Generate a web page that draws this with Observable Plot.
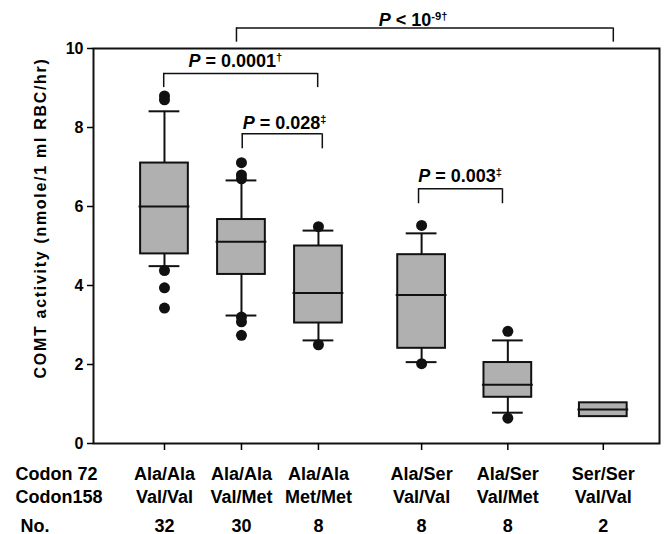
<!DOCTYPE html>
<html><head><meta charset="utf-8">
<script src="https://cdn.jsdelivr.net/npm/d3@7"></script>
<script src="https://cdn.jsdelivr.net/npm/@observablehq/plot@0.6"></script>
<style>body{margin:0;background:#fff;}</style>
</head><body><div id="chart"></div>
<script>
// ---- data ----
const codon72   = ["Ala/Ala","Ala/Ala","Ala/Ala","Ala/Ser","Ala/Ser","Ser/Ser"];
const codon158  = ["Val/Val","Val/Met","Met/Met","Val/Val","Val/Met","Val/Val"];
const counts    = [32, 30, 8, 8, 8, 2];
const groupPos  = [1, 2, 3, 4.34, 5.46, 6.70];
const q1        = [4.80, 4.28, 3.05, 2.41, 1.17, 0.68];
const median    = [6.00, 5.11, 3.81, 3.76, 1.49, 0.86];
const q3        = [7.10, 5.67, 5.00, 4.78, 2.05, 1.03];
const whiskerLo = [4.49, 3.24, 2.61, 2.06, 0.78, null];
const whiskerHi = [8.41, 6.66, 5.39, 5.32, 2.61, null];
const outliers  = [[8.80, 8.70, 4.38, 3.94, 3.43], [7.11, 6.80, 6.70, 3.20, 3.08, 2.74], [5.49, 2.50], [5.52, 2.02], [2.84, 0.64], []];
const yTicks    = [0, 2, 4, 6, 8, 10];
const pLabels   = ["P = 0.0001^†", "P = 0.028^‡", "P = 0.003^‡", "P < 10^-9†"];
const pFromX    = [0.99, 2.01, 4.30, 1.935];
const pToX      = [2.99, 3.05, 5.39, 6.83];
const pBarY     = [9.37, 7.84, 6.45, 10.52];
const pArmEndY  = [9.01, 7.46, 6.07, 10.16];
const pTextX    = [1.92, 2.56, 4.84, 4.23];
const pTextY    = [9.53, 7.97, 6.62, 10.58];
const yLabel    = "COMT activity (nmole/1 ml RBC/hr)";

// ---- tables ----
const groups = groupPos.map((x, i) => ({
  x, q1: q1[i], med: median[i], q3: q3[i], lo: whiskerLo[i], hi: whiskerHi[i],
  label: codon72[i] + "\n" + codon158[i], n: String(counts[i])
}));
const whiskered = groups.filter(d => d.lo != null);
const outlierPts = outliers.flatMap((arr, i) => arr.map(v => ({x: groupPos[i], v})));
const pTable = pLabels.map((label, i) => ({label, x1: pFromX[i], x2: pToX[i], by: pBarY[i], be: pArmEndY[i], tx: pTextX[i], ty: pTextY[i]}));

const ink = "#111";
const boxHalf = 0.31, capHalf = 0.2;

const chart = Plot.plot({
  width: 664, height: 534,
  marginLeft: 93, marginRight: 5, marginTop: 48, marginBottom: 91,
  x: {domain: [0.078, 7.43]},
  y: {domain: [0, 10]},
  style: {fontFamily: "'Liberation Sans', Arial, sans-serif", color: "#000", background: "#fff", overflow: "visible"},
  marks: [
    Plot.frame({stroke: ink, strokeWidth: 2}),
    Plot.axisY({ticks: yTicks, tickSize: 6, tickPadding: 4, fontSize: 16, fontWeight: "bold", label: null, strokeWidth: 1.5}),
    Plot.axisX({ticks: groupPos, tickSize: 7, tickFormat: () => "", label: null, strokeWidth: 1.5}),
    Plot.ruleX(whiskered, {x: "x", y1: "q3", y2: "hi", stroke: ink, strokeWidth: 2}),
    Plot.ruleX(whiskered, {x: "x", y1: "lo", y2: "q1", stroke: ink, strokeWidth: 2}),
    Plot.ruleY(whiskered, {y: "hi", x1: d => d.x - capHalf, x2: d => d.x + capHalf, stroke: ink, strokeWidth: 2}),
    Plot.ruleY(whiskered, {y: "lo", x1: d => d.x - capHalf, x2: d => d.x + capHalf, stroke: ink, strokeWidth: 2}),
    Plot.rect(groups, {x1: d => d.x - boxHalf, x2: d => d.x + boxHalf, y1: "q1", y2: "q3", fill: "#b0b0b0", stroke: ink, strokeWidth: 2}),
    Plot.ruleY(groups, {y: "med", x1: d => d.x - boxHalf - 0.02, x2: d => d.x + boxHalf + 0.02, stroke: ink, strokeWidth: 2}),
    Plot.dot(outlierPts, {x: "x", y: "v", r: 5.5, fill: ink, stroke: null}),
    // significance brackets
    Plot.ruleY(pTable, {y: "by", x1: "x1", x2: "x2", stroke: ink, strokeWidth: 1.5}),
    Plot.ruleX(pTable, {x: "x1", y1: "by", y2: "be", stroke: ink, strokeWidth: 1.5}),
    Plot.ruleX(pTable, {x: "x2", y1: "by", y2: "be", stroke: ink, strokeWidth: 1.5}),
    Plot.text(pTable, {x: "tx", y: "ty", text: "label", lineAnchor: "bottom", fontSize: 18, fontWeight: "bold", fill: "#000"}),
    // category labels below axis
    Plot.text(groups, {x: "x", text: "label", frameAnchor: "bottom", lineAnchor: "bottom", dy: 59, lineHeight: 1.278, fontSize: 18, fontWeight: "bold", fill: "#000"}),
    Plot.text(groups, {x: "x", text: "n", frameAnchor: "bottom", lineAnchor: "bottom", dy: 88, fontSize: 18, fontWeight: "bold", fill: "#000"}),
    Plot.text(["Codon 72\nCodon158"], {text: d => d, frameAnchor: "bottom-left", textAnchor: "start", lineAnchor: "bottom", dx: -78, dy: 59, lineHeight: 1.278, fontSize: 18, fontWeight: "bold", fill: "#000"}),
    Plot.text(["No."], {text: d => d, frameAnchor: "bottom-left", textAnchor: "start", lineAnchor: "bottom", dx: -73, dy: 88, fontSize: 18, fontWeight: "bold", fill: "#000"}),
    // y axis title
    Plot.text([yLabel], {text: d => d, frameAnchor: "left", textAnchor: "middle", lineAnchor: "middle", rotate: -90, dx: -53, dy: -28, fontSize: 16, fontWeight: "bold", fill: "#000"})
  ]
});

// rich text: italic P and superscripts
const NS = "http://www.w3.org/2000/svg";
chart.querySelectorAll("text").forEach(el => {
  const s = el.textContent;
  if (pLabels.includes(s)) {
    const [main, sup] = s.split("^");
    while (el.firstChild) el.removeChild(el.firstChild);
    const p = document.createElementNS(NS, "tspan");
    p.setAttribute("font-style", "italic");
    p.textContent = main[0];
    el.appendChild(p);
    const rest = document.createElementNS(NS, "tspan");
    rest.textContent = main.slice(1);
    el.appendChild(rest);
    if (sup) {
      const t = document.createElementNS(NS, "tspan");
      t.setAttribute("dy", "-0.5em");
      t.setAttribute("font-size", "0.62em");
      t.textContent = sup;
      el.appendChild(t);
    }
  } else if (s === yLabel) {
    el.style.letterSpacing = "1.7px";
  }
});

document.getElementById("chart").appendChild(chart);
</script>
</body></html>
